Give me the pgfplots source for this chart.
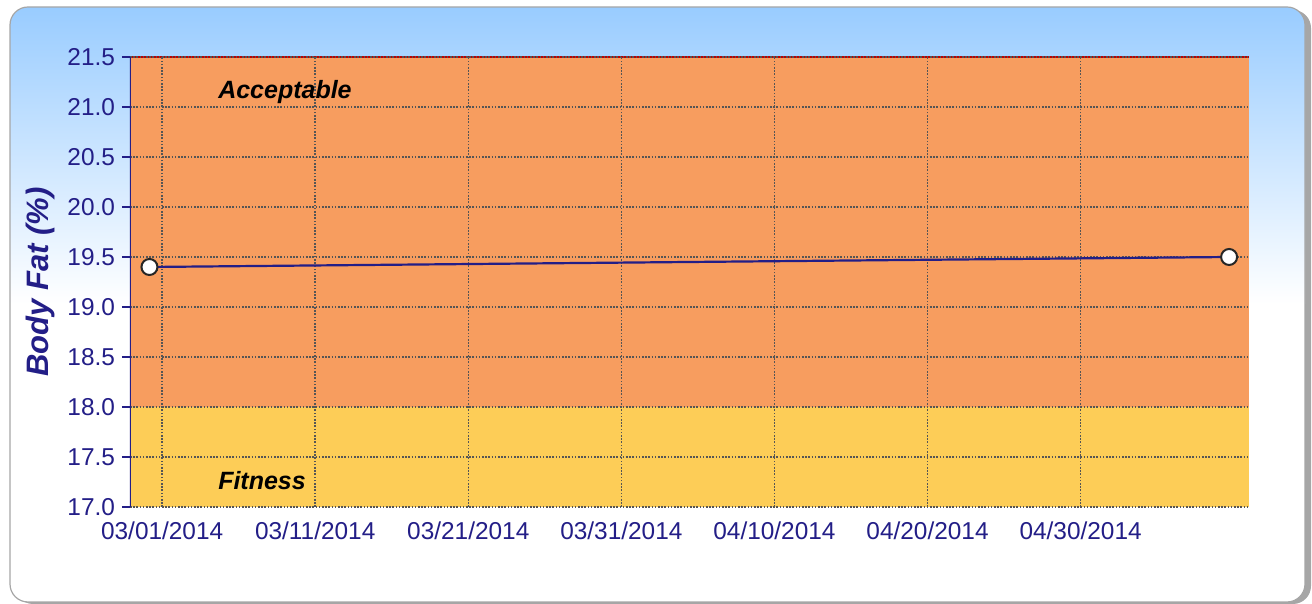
\documentclass[border=0pt]{standalone}
\usepackage{pgfplots}
\pgfplotsset{compat=1.18}
\usepackage{fontspec}
\setmainfont{Liberation Sans}
\definecolor{navy}{RGB}{35,30,135}
\definecolor{bandO}{RGB}{247,157,95}
\definecolor{bandY}{RGB}{253,205,87}
\definecolor{skyblue}{RGB}{153,204,255}
\definecolor{gridc}{RGB}{85,85,85}
\pgfplotsset{common/.style={
  at={(65pt,48.5pt)}, anchor=south west,
  scale only axis, width=559.5pt, height=225pt,
  xmin=-2.1, xmax=71, ymin=17, ymax=21.5}}
\begin{document}
\begin{tikzpicture}
\path (0pt,0pt) rectangle (656pt,302pt);
\fill[black!35, rounded corners=9pt] (7.5pt,0pt) rectangle (655.5pt,297pt);
\begin{scope}
\clip[rounded corners=9pt] (5pt,1pt) rectangle (652.5pt,298.5pt);
\fill[white] (5pt,1pt) rectangle (652.5pt,298.5pt);
\shade[top color=skyblue, bottom color=white] (5pt,150pt) rectangle (652.5pt,298.5pt);
\end{scope}
\draw[gray!70, rounded corners=9pt, line width=0.6pt] (5pt,1pt) rectangle (652.5pt,298.5pt);
\begin{axis}[common, hide axis]
\addplot[draw=none, fill=bandO] coordinates {(-2.1,18) (71,18) (71,21.5) (-2.1,21.5)} -- cycle;
\addplot[draw=none, fill=bandY] coordinates {(-2.1,17) (71,17) (71,18) (-2.1,18)} -- cycle;
\addplot[red!75!black, line width=0.7pt] coordinates {(-2.1,21.5) (71,21.5)};
\end{axis}
\begin{axis}[common,
  xtick={0,10,20,30,40,50,60},
  xticklabels={03/01/2014,03/11/2014,03/21/2014,03/31/2014,04/10/2014,04/20/2014,04/30/2014},
  ytick={17,17.5,18,18.5,19,19.5,20,20.5,21,21.5},
  yticklabel style={/pgf/number format/.cd, fixed, fixed zerofill, precision=1},
  /pgf/number format/assume math mode=true,
  ticklabel style={font=\fontsize{12.2}{14}\selectfont, text=navy},
  grid=major,
  major grid style={draw=gridc, line width=0.8pt, dash pattern=on 0.8pt off 0.8pt},
  axis line style={draw=none},
  tick align=outside,
  ytick pos=left,
  xtick style={draw=none},
  ytick style={draw=navy, line width=1pt},
  major tick length=4pt,
  ylabel={Body Fat (\%)},
  ylabel style={font=\fontsize{15.5}{18}\selectfont\bfseries\itshape, text=navy, at={(axis description cs:-0.0804,0.5)}, anchor=center},
]
\addplot[navy, line width=1.1pt, mark=*, mark size=4pt, mark options={fill=white, draw=black!85, line width=1pt}] coordinates {(-0.83,19.4) (69.7,19.5)};
\node[anchor=west, font=\fontsize{12.5}{15}\selectfont\bfseries\itshape, inner sep=0pt] at (axis cs:3.64,21.15) {Acceptable};
\node[anchor=west, font=\fontsize{12.5}{15}\selectfont\bfseries\itshape, inner sep=0pt] at (axis cs:3.64,17.26) {Fitness};
\draw[navy, line width=1pt] (rel axis cs:0,0) -- (rel axis cs:0,1);
\end{axis}
\end{tikzpicture}
\end{document}
